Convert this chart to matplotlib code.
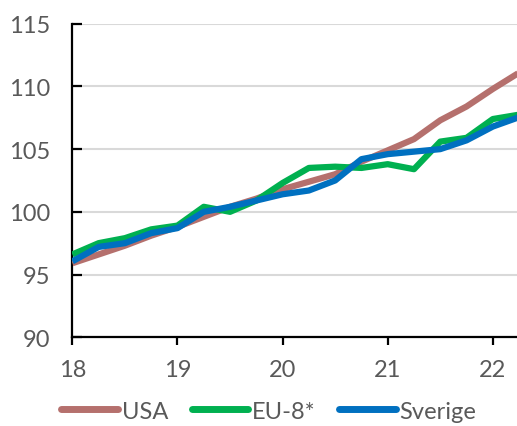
import matplotlib.pyplot as plt
import numpy as np

# Quarterly index values, 2018 Q1 .. 2022 Q2
quarters = 18 + np.arange(18) * 0.25
usa = [95.9, 96.6, 97.3, 98.1, 98.8, 99.6, 100.4, 101.05, 101.8, 102.4,
       103.0, 104.0, 104.9, 105.8, 107.3, 108.4, 109.8, 111.1]
eu8 = [96.6, 97.5, 97.9, 98.6, 98.9, 100.4, 100.0, 100.9, 102.3, 103.5,
       103.6, 103.5, 103.8, 103.4, 105.6, 105.9, 107.4, 107.75]
sverige = [96.05, 97.2, 97.5, 98.3, 98.7, 100.0, 100.4, 100.9, 101.4, 101.7,
           102.5, 104.2, 104.6, 104.8, 105.0, 105.7, 106.8, 107.55]

x_ticks = [18, 19, 20, 21, 22]
y_ticks = [90, 95, 100, 105, 110, 115]

plt.rcParams['font.family'] = ['Lato', 'DejaVu Sans']
text_col = '#595959'

fig = plt.figure(figsize=(5.17, 4.27), dpi=100)
ax = fig.add_axes([0.14, 0.208, 0.86, 0.734])

lw = 4.5
ax.plot(quarters, usa, color='#B5706D', lw=lw, label='USA',
        solid_capstyle='butt', zorder=3)
ax.plot(quarters, eu8, color='#00B050', lw=lw, label='EU-8*',
        solid_capstyle='butt', zorder=4)
ax.plot(quarters, sverige, color='#0070C0', lw=lw, label='Sverige',
        solid_capstyle='butt', zorder=5)

ax.set_xlim(18, 22.23)
ax.set_ylim(90, 115)
ax.set_xticks(x_ticks)
ax.set_yticks(y_ticks)
ax.grid(axis='y', color='#d9d9d9', lw=1.5, zorder=0)
ax.set_axisbelow(True)

for side in ['top', 'right']:
    ax.spines[side].set_visible(False)
for side in ['left', 'bottom']:
    ax.spines[side].set_linewidth(1.6)
    ax.spines[side].set_color('black')

ax.tick_params(axis='x', direction='out', length=6, width=1.6,
               labelsize=17, labelcolor=text_col, pad=10)
ax.tick_params(axis='y', direction='in', length=7, width=1.6,
               labelsize=17, labelcolor=text_col, pad=16)

leg = fig.legend(loc='center', bbox_to_anchor=(0.52, 0.035), ncol=3,
                 frameon=False, fontsize=17, handlelength=2.4,
                 handletextpad=0.15, columnspacing=1.0,
                 borderpad=0.2)
for line in leg.get_lines():
    line.set_linewidth(5)
    line.set_solid_capstyle('round')
for t in leg.get_texts():
    t.set_color(text_col)

fig.savefig('out.png', dpi=100)
